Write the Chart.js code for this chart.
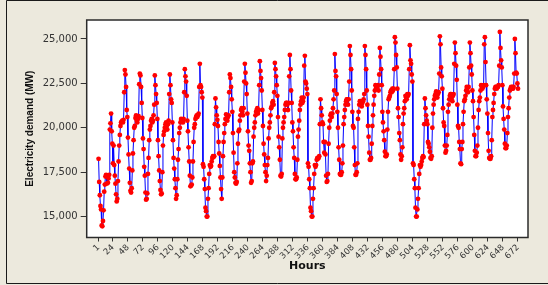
<!DOCTYPE html>
<html>
<head>
<meta charset="utf-8">
<script src="https://cdn.jsdelivr.net/npm/chart.js@4.4.1/dist/chart.umd.min.js"></script>
<style>
  html, body { margin: 0; padding: 0; background: #ece9dd; }
  #wrap { width: 548px; height: 285px; }
</style>
</head>
<body>
<div id="wrap"><canvas id="chart" width="548" height="285"></canvas></div>
<script>
// Demanda horaria (MW): una fila por día, 24 valores por fila
const week1 = [
  [18250,16950,16200,15600,15400,14500,14450,14750,15350,16400,16800,17250,17350,16850,17300,16900,17150,17350,19900,20250,20800,19800,19100,18000],
  [19000,17900,17300,16850,16250,15850,16000,17000,18100,19000,19600,20100,20300,20350,20400,20300,20450,22000,23250,23000,22300,21000,20600,19450],
  [18500,17700,16900,16450,16350,16600,17600,18550,19300,20000,20100,20550,20700,20400,20300,20500,20650,22450,23050,22950,22300,21400,20550,19400],
  [18800,17800,17300,16350,15950,16000,16300,17400,18300,19300,19900,20100,20400,20500,20300,20400,20700,21300,22950,22400,21900,21400,20500,19300],
  [18400,17600,17000,16500,16250,16300,17500,19000,19600,19800,20000,20200,20300,20100,19900,20200,20400,21900,23000,22400,21600,21400,20300,19300],
  [18300,17700,17100,16600,16000,16200,17100,18200,18800,19700,20000,20300,20500,20450,20400,20300,20500,22000,23300,22900,22600,21800,20400,19800],
  [18900,18100,17300,16700,16750,16800,17200,18100,19200,20000,20200,20500,20600,20700,20600,20700,20800,22300,23600,22400,22300,22000,21700,17950]
];
const week2 = [
  [17800,17100,16550,15500,15300,15000,15000,16000,16600,17400,17900,17800,17850,18100,18300,18400,18350,18400,20200,21650,21150,20700,20450,20100],
  [19200,18550,17850,17200,16550,16000,17200,18400,19200,19700,20200,20500,20750,20500,20400,20600,20700,22000,23000,22800,22300,21600,20900,19700],
  [18600,17500,17200,16900,16850,16950,18000,19100,19800,19900,20400,20700,21000,21100,20900,20700,21100,22600,23600,23100,22500,21900,20800,19800],
  [19000,18700,18000,17500,16900,17000,18000,18100,19500,20000,20300,20700,20900,21000,21100,20800,21000,22400,23750,23200,22800,22100,21000,20100],
  [19100,18500,17900,17500,17000,17300,17900,18300,19400,20000,20300,20700,21100,21200,21400,21500,21300,22000,23650,23300,22900,22400,21800,20600],
  [19500,18900,18200,17300,17250,17400,19400,20000,20300,20600,21000,21300,21400,21400,21300,21000,21400,22900,24100,23300,22100,21400,20300,19800],
  [18900,18300,17400,17100,17100,17200,18200,19500,19900,20400,21000,21300,21500,21700,21400,21500,21700,23500,24050,22600,22500,22200,21900,18000]
];
const week3 = [
  [17800,17100,16600,15500,15300,15000,15000,16000,16600,17400,17900,17800,17900,18200,18300,18250,18300,18400,20200,21600,21100,20700,20300,20200],
  [19200,18600,19200,18500,17300,16950,17000,17400,19100,20000,20400,20700,20800,20600,20800,21100,21600,22100,24150,23200,22900,21900,20900,20000],
  [18900,18200,17400,17350,17350,17500,18000,19000,20200,20600,21000,21300,21500,21600,21600,21300,21600,22600,24600,24100,23300,22100,20900,20100],
  [20000,18900,17900,17350,17350,17500,18000,20500,20900,21300,21500,21500,21300,21200,21400,21500,21600,21900,24600,24100,23300,22100,21300,20100],
  [19500,18600,18200,18200,18300,19100,20100,20700,21300,21800,22100,22400,22300,22200,22300,22400,22100,23000,24500,24000,23300,22400,20900,20300],
  [19800,19300,18650,18400,18400,18500,19900,20900,21600,21700,21800,22000,22100,22000,22200,22100,22200,23300,25100,24800,24100,23400,22200,21100],
  [20600,19700,19300,18500,18200,18400,18900,20200,20800,21100,21500,21800,21700,21600,21900,21800,21900,23300,24650,23800,23600,23000,22600,18000]
];
const week4 = [
  [17900,17100,16600,15500,15000,15000,15400,16000,16600,17400,17900,17800,17900,18100,18300,18400,18350,20200,21650,21100,20700,20400,20200,19200],
  [19100,18900,18650,18300,18250,18400,20000,20800,21300,21600,21800,21900,22050,21800,21700,21900,22000,23050,25150,24700,23400,22900,22200,21100],
  [20300,20100,19000,18600,18700,19000,19600,20900,21300,21600,21800,21900,21900,21700,21500,21800,21900,23600,24800,24200,23500,22700,21300,20100],
  [20000,19200,18800,18000,17950,18800,19200,20200,20900,21500,21600,21800,22100,22300,22200,22000,22300,23400,24800,24200,23500,23000,22100,21500],
  [20600,19600,18700,18400,18400,18600,19000,20000,21000,21500,21700,22100,22400,22300,22200,22300,22400,24700,25100,23700,22400,21600,20800,19700],
  [18700,18300,18250,18250,18400,19300,20600,21000,21400,21900,22200,22300,22300,22200,22300,22300,22400,23500,25400,24500,23800,23400,22400,21200],
  [20500,19900,19100,18850,18850,19000,19700,20600,21100,21700,22100,22200,22300,22200,22300,22200,22300,23050,25000,24200,23100,23050,22500,22200]
];

const xTicks = [1,24,48,72,96,120,144,168,192,216,240,264,288,312,336,360,384,408,432,456,480,504,528,552,576,600,624,648,672];
const yTicks = [15000,17500,20000,22500,25000];

const demand = [...week1, ...week2, ...week3, ...week4].flat();
const points = demand.map((v, i) => ({ x: i + 1, y: v }));

// ---------- Fondo, marco y recuadro del área ----------
const framePlugin = {
  id: "frame",
  beforeDraw(chart) {
    const { ctx, chartArea: a, width, height } = chart;
    ctx.save();
    ctx.fillStyle = "#ece9dd";
    ctx.fillRect(0, 0, width, height);
    ctx.strokeStyle = "#1a1a1a";
    ctx.lineWidth = 1;
    ctx.beginPath();
    ctx.moveTo(width, 0.5); ctx.lineTo(6.5, 0.5);
    ctx.lineTo(6.5, 283.5); ctx.lineTo(width, 283.5);
    ctx.stroke();
    ctx.fillStyle = "#ffffff";
    ctx.fillRect(a.left, a.top, a.right - a.left, a.bottom - a.top);
    ctx.restore();
  },
  afterDraw(chart) {
    const { ctx, chartArea: a } = chart;
    ctx.save();
    ctx.strokeStyle = "#2b2b2b";
    ctx.lineWidth = 1.5;
    ctx.strokeRect(a.left, a.top, a.right - a.left, a.bottom - a.top);
    ctx.restore();
  }
};

function start() {
  new Chart(document.getElementById("chart"), {
    type: "line",
    data: {
      datasets: [{
        data: points,
        borderColor: "#0000ff",
        borderWidth: 1,
        pointRadius: 2.4,
        pointBackgroundColor: "#ff0000",
        pointBorderColor: "#ff0000",
        pointBorderWidth: 0,
        tension: 0
      }]
    },
    options: {
      responsive: false,
      animation: false,
      devicePixelRatio: 1,
      layout: { padding: { left: 7, top: 20, right: 20, bottom: 4 } },
      plugins: { legend: { display: false }, tooltip: { enabled: false } },
      scales: {
        x: {
          type: "linear",
          min: -18,
          max: 688,
          afterBuildTicks: s => { s.ticks = xTicks.map(v => ({ value: v })); },
          afterFit: s => { s.height = 43.5; },
          ticks: {
            autoSkip: false, minRotation: 45, maxRotation: 45,
            padding: 1, color: "#333",
            font: { family: "'DejaVu Sans', sans-serif", size: 8.5 }
          },
          grid: { drawOnChartArea: false, drawTicks: true, tickLength: 4, color: "#333" },
          border: { display: false },
          title: {
            display: true, text: "Hours", color: "#111",
            font: { family: "'DejaVu Sans', sans-serif", size: 11, weight: "bold" },
            padding: { top: 0, bottom: 8 }
          }
        },
        y: {
          min: 13820,
          max: 26070,
          afterBuildTicks: s => { s.ticks = yTicks.map(v => ({ value: v })); },
          afterFit: s => { s.width = 79.7; },
          ticks: {
            padding: 3, color: "#333",
            font: { family: "'DejaVu Sans', sans-serif", size: 10 }
          },
          grid: { drawOnChartArea: false, drawTicks: true, tickLength: 6, color: "#333" },
          border: { display: false },
          title: {
            display: true, text: "Electricity demand (MW)", color: "#111",
            font: { family: "'Liberation Sans', sans-serif", size: 10, weight: "bold" },
            padding: { top: 17, bottom: 0 }
          }
        }
      }
    },
    plugins: [framePlugin]
  });
}

document.addEventListener("DOMContentLoaded", start);
</script>
</body>
</html>
